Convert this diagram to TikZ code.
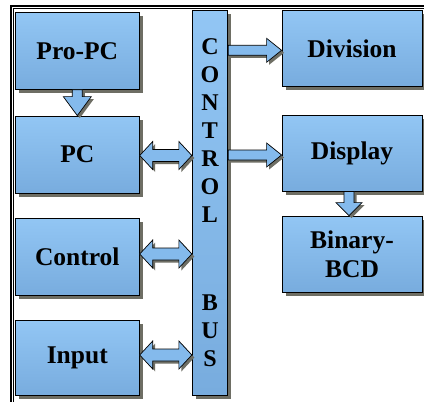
\documentclass[tikz,border=0pt]{standalone}
\usepackage{fontspec}
\setmainfont{Liberation Serif}[BoldFont={Liberation Serif Bold}]
\usetikzlibrary{calc,shadows}

\definecolor{boxtop}{RGB}{146,198,244}
\definecolor{boxbot}{RGB}{120,172,222}
\definecolor{arrowfill}{RGB}{132,186,236}
\definecolor{shadowgray}{RGB}{110,110,100}

\tikzset{
  shade box/.style={drop shadow={shadow xshift=3.5pt,shadow yshift=-3.5pt,fill=shadowgray,opacity=1}},
  unitbox/.style={draw=black,line width=0.8pt,top color=boxtop,bottom color=boxbot,
    shade box,font=\rmfamily\bfseries\fontsize{25.5}{29}\selectfont,align=center,inner sep=0pt},
  blockarrow/.style={draw=black,line width=0.7pt,fill=arrowfill,line join=miter,
    drop shadow={shadow xshift=2.5pt,shadow yshift=-2.5pt,fill=shadowgray,opacity=1}},
}

% single block arrow from #1 to tip #2: shaft half width #3, head half width #4, head length #5
\newcommand\blockarrowone[5]{%
  \coordinate (ba-h) at ($(#2)!#5!(#1)$);
  \path[blockarrow] ($(#1)!#3!90:(#2)$) -- ($(ba-h)!#3!90:(#2)$) -- ($(ba-h)!#4!90:(#2)$)
    -- (#2) -- ($(ba-h)!#4!-90:(#2)$) -- ($(ba-h)!#3!-90:(#2)$) -- ($(#1)!#3!-90:(#2)$) -- cycle;}

% double block arrow between #1 and #2: shaft half width #3, head half width #4, head length #5
\newcommand\blockarrowtwo[5]{%
  \coordinate (bb-a) at ($(#1)!#5!(#2)$);
  \coordinate (bb-b) at ($(#2)!#5!(#1)$);
  \path[blockarrow] (#1) -- ($(bb-a)!#4!90:(#2)$) -- ($(bb-a)!#3!90:(#2)$) -- ($(bb-b)!#3!-90:(#1)$)
    -- ($(bb-b)!#4!-90:(#1)$) -- (#2) -- ($(bb-b)!#4!90:(#1)$) -- ($(bb-b)!#3!90:(#1)$)
    -- ($(bb-a)!#3!-90:(#2)$) -- ($(bb-a)!#4!-90:(#2)$) -- cycle;}

\begin{document}
\begin{tikzpicture}[x=1pt,y=-1pt]
  \useasboundingbox (0,0) rectangle (424,402);
  \fill[white] (0,0) rectangle (424,402);

  % double-line frame along the top and left
  \draw[line width=2pt] (10.5,402) -- (10.5,5.5) -- (424,5.5);
  \draw[line width=0.6pt] (13.5,402) -- (13.5,8.5) -- (424,8.5);

  % left column units
  \node[unitbox,minimum width=124pt,minimum height=76.5pt] (prepc) at (77.3,51) {Pro-PC};
  \node[unitbox,minimum width=124pt,minimum height=77pt] (pc) at (77.3,154.5) {PC};
  \node[unitbox,minimum width=124pt,minimum height=77.5pt] (ctrl) at (77.3,257) {Control};
  \node[unitbox,minimum width=124pt,minimum height=74.5pt] (input) at (77.3,358) {Input};

  % control bus
  \node[unitbox,minimum width=35.5pt,minimum height=385pt] (bus) at (210,202.5) {};
  \node[font=\rmfamily\bfseries\fontsize{24}{28}\selectfont,align=center,inner sep=0pt,anchor=north]
    (buslabel) at (210,38) {C\\O\\N\\T\\R\\O\\L\\[60pt]B\\U\\S};

  % right column units
  \node[unitbox,minimum width=140pt,minimum height=75.5pt] (div) at (352,48.3) {Division};
  \node[unitbox,minimum width=140pt,minimum height=76pt] (disp) at (352,153) {Display};
  \node[unitbox,minimum width=140pt,minimum height=76pt] (bcd) at (352,254) {Binary-\\BCD};

  % connection points
  \coordinate (a1) at (prepc.south);
  \coordinate (a2) at (pc.north);
  \coordinate (p1) at ($(pc.east)+(0,1)$);
  \coordinate (p2) at (bus.west |- p1);
  \coordinate (c1) at ($(ctrl.east)+(0,-3)$);
  \coordinate (c2) at (bus.west |- c1);
  \coordinate (i1) at ($(input.east)+(0,-3)$);
  \coordinate (i2) at (bus.west |- i1);
  \coordinate (d0) at ($(div.west)+(0,2)$);
  \coordinate (d1) at (bus.east |- d0);
  \coordinate (s0) at ($(disp.west)+(0,2)$);
  \coordinate (s1) at (bus.east |- s0);
  \coordinate (b1) at ($(disp.south)+(-3,0)$);
  \coordinate (b2) at ($(bcd.north)+(-3,0)$);

  % block arrows
  \blockarrowone{a1}{a2}{5pt}{14pt}{19pt}
  \blockarrowtwo{p1}{p2}{6pt}{14pt}{13pt}
  \blockarrowtwo{c1}{c2}{6pt}{14pt}{13pt}
  \blockarrowtwo{i1}{i2}{6pt}{14pt}{13pt}
  \blockarrowone{d1}{d0}{5pt}{12pt}{15pt}
  \blockarrowone{s1}{s0}{5pt}{12pt}{15pt}
  \blockarrowone{b1}{b2}{5pt}{13pt}{13pt}
\end{tikzpicture}
\end{document}
